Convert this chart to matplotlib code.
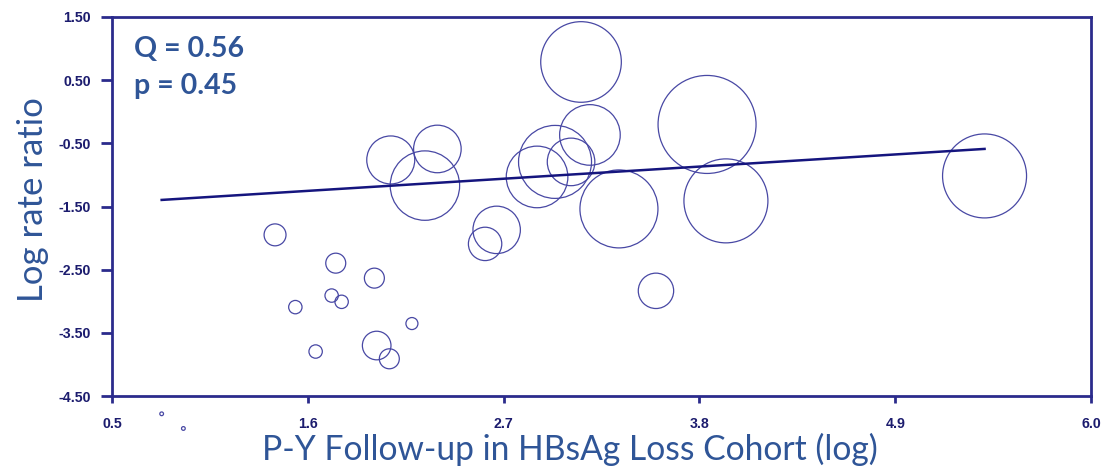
import matplotlib
matplotlib.use("Agg")
import matplotlib.pyplot as plt
import numpy as np

# study-level data for the meta-regression bubble plot
log_py = [1.416, 1.757, 1.974, 1.734, 1.790, 1.530, 2.185, 1.644, 1.987, 2.058,
          2.066, 2.328, 2.258, 2.661, 2.596,
          3.135, 3.185, 2.989, 2.888, 3.079, 3.348,
          3.843, 3.949, 3.556, 5.402,
          0.779, 0.901]
log_rr = [-1.949, -2.397, -2.634, -2.910, -3.009, -3.093, -3.353, -3.796, -3.701, -3.911,
          -0.763, -0.589, -1.169, -1.870, -2.092,
          0.788, -0.367, -0.794, -1.032, -0.794, -1.538,
          -0.201, -1.411, -2.835, -1.016,
          -4.782, -5.014]
weight_pct = [0.70, 0.58, 0.58, 0.26, 0.26, 0.26, 0.21, 0.26, 1.19, 0.58,
              3.35, 3.29, 7.01, 3.27, 1.62,
              9.45, 5.34, 7.75, 5.52, 3.29, 8.85,
              13.97, 10.26, 1.82, 10.26,
              0.02, 0.02]

reg_intercept = -1.532
reg_slope = 0.1747
q_stat = 0.56
p_value = 0.45

xticks = [0.5, 1.6, 2.7, 3.8, 4.9, 6.0]
yticks = [1.5, 0.5, -0.5, -1.5, -2.5, -3.5, -4.5]

navy = "#2b2b8c"
tick_col = "#1c1c6e"
label_col = "#2f5597"

fig = plt.figure(figsize=(11.01, 4.68), dpi=100)
ax = fig.add_axes([112 / 1101, 1 - 396 / 468, 979 / 1101, 379 / 468])

sizes = np.array(weight_pct) * 356.4
ax.scatter(log_py, log_rr, s=sizes, facecolors="none", edgecolors="#4848a4",
           linewidths=0.9, clip_on=False, zorder=2)

xr = np.array([min(log_py), max(log_py)])
ax.plot(xr, reg_intercept + reg_slope * xr, color="#15157e", lw=1.8, zorder=3)

ax.set_xlim(0.5, 6.0)
ax.set_ylim(-4.5, 1.5)
ax.set_xticks(xticks)
ax.set_xticklabels([f"{v:.1f}" for v in xticks])
ax.set_yticks(yticks)
ax.set_yticklabels([f"{v:.2f}" for v in yticks])

for sp in ax.spines.values():
    sp.set_color(navy)
    sp.set_linewidth(2)

ax.tick_params(axis="x", direction="out", length=5, width=2, color=navy, pad=10)
ax.tick_params(axis="y", direction="out", length=8, width=2, color=navy, pad=7)
for lab in ax.get_xticklabels() + ax.get_yticklabels():
    lab.set_fontfamily("Liberation Sans")
    lab.set_fontweight("bold")
    lab.set_fontsize(10.2)
    lab.set_color(tick_col)

fig.text(33 / 1101, 1 - 200 / 468, "Log rate ratio", rotation=90, ha="center", va="center",
         fontsize=25, color=label_col, family="Lato")
fig.text(570 / 1101, 1 - 460 / 468, "P-Y Follow-up in HBsAg Loss Cohort (log)",
         ha="center", va="baseline", fontsize=24.2, color=label_col, family="Lato")

ax.text(0.022, 0.8945, f"Q = {q_stat:.2f}", transform=ax.transAxes, ha="left", va="baseline",
        fontsize=20.5, fontweight="bold", color=label_col, family="Lato")
ax.text(0.022, 0.7968, f"p = {p_value:.2f}", transform=ax.transAxes, ha="left", va="baseline",
        fontsize=20.5, fontweight="bold", color=label_col, family="Lato")

fig.savefig("out.png", dpi=100)
